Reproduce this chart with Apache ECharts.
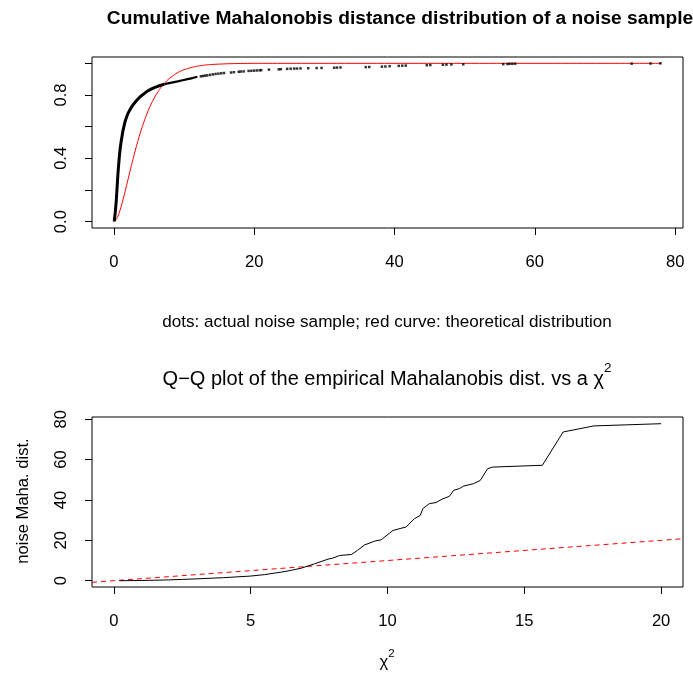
<!DOCTYPE html>
<html><head><meta charset="utf-8">
<script src="https://cdn.jsdelivr.net/npm/echarts@6/dist/echarts.min.js"></script>
<style>html,body{margin:0;padding:0;background:#fff}#c{width:693px;height:673px}</style>
</head><body><div id="c"></div>
<script>
// ---- Top panel: empirical CDF of the noise Mahalanobis distances (dense part)
const denseDist = [0.05,0.09,0.2,0.33,0.45,0.57,0.68,0.80,0.92,1.04,1.16,1.28,1.45,1.61,1.8,1.99,2.2,2.46,2.8,3.17,3.5,3.88,4.35,4.83,5.3,5.77,6.25,6.73,7.2];
const denseProb = [0.001,0.006,0.06,0.127,0.21,0.297,0.36,0.424,0.47,0.508,0.54,0.572,0.605,0.635,0.66,0.682,0.70,0.720,0.742,0.762,0.778,0.794,0.81,0.826,0.837,0.847,0.855,0.862,0.868];
const midDist = [7.2,7.68,8.4,9.1,9.8,10.5,11.2,11.9];
const midProb = [0.868,0.873,0.880,0.886,0.893,0.900,0.907,0.915];
// sparse tail dots
const tailDist = [12.4,12.7,13.0,13.3,13.7,14.1,14.5,14.9,15.3,15.7,16.7,17.1,17.8,18.1,18.5,19.2,19.6,20.0,20.4,20.8,21.0,22.1,23.5,23.8,24.7,25.2,25.7,26.1,26.6,27.7,28.9,29.6,31.4,31.8,32.3,35.9,36.4,38.2,38.7,39.3,40.6,41.1,41.6,44.6,45.1,46.9,47.4,48.1,49.8,55.5,56.1,56.4,56.8,57.2,73.8,76.5,77.9];
const tailProb = [0.918,0.920,0.922,0.924,0.927,0.930,0.933,0.935,0.937,0.939,0.942,0.944,0.947,0.948,0.949,0.952,0.953,0.954,0.955,0.956,0.957,0.960,0.962,0.963,0.965,0.966,0.967,0.967,0.968,0.969,0.970,0.971,0.972,0.973,0.974,0.976,0.977,0.979,0.980,0.982,0.984,0.985,0.986,0.988,0.989,0.991,0.992,0.993,0.994,0.995,0.996,0.997,0.997,0.998,0.998,0.999,1.0];
// theoretical distribution (red curve)
const theoDist = [0,0.4,0.8,1.2,1.6,2.0,2.5,3.0,3.5,4.0,4.5,5.0,5.5,6.0,6.5,7.0,7.5,8.0,9.0,10.0,11.0,12.0,13.0,14.0,16.0,18.0,20.0,78.0];
const theoProb = [0,0.018,0.061,0.122,0.191,0.264,0.355,0.442,0.522,0.594,0.657,0.713,0.760,0.801,0.835,0.864,0.888,0.908,0.939,0.960,0.973,0.983,0.989,0.993,0.997,0.999,1.0,1.0];
// ---- Bottom panel: Q-Q plot
const qqChi  = [0.2,1,2,2.5,3,4,5,5.5,6.13,6.5,6.86,7.34,7.83,8.0,8.25,8.68,8.9,9.16,9.53,9.77,9.83,10.2,10.5,10.68,10.98,11.2,11.29,11.53,11.77,12.02,12.26,12.42,12.62,12.78,13.15,13.39,13.66,13.84,15.66,16.42,17.54,20.0];
const qqDist = [0.0,0.1,0.4,0.65,0.9,1.5,2.3,3.0,4.28,5.2,6.26,8.4,10.7,11.2,12.5,13.0,15.0,17.7,19.6,20.3,21.1,24.9,26.0,26.6,30.7,32.4,35.7,38.2,38.7,40.6,41.8,44.8,45.6,46.9,48.1,49.7,55.5,56.3,57.2,73.7,76.7,77.8];
const refLineX = [-0.8, 20.8];   // y = x reference line
// ---- tick values / labels
const topXTicks = [0,20,40,60,80];
const topYTicks = [0,0.2,0.4,0.6,0.8,1.0];
const topYLabels = [0,0.4,0.8];
const botXTicks = [0,5,10,15,20];
const botYTicks = [0,20,40,60,80];

const mainTitle = 'Cumulative Mahalonobis distance distribution of a noise sample';
const subTitle = 'dots: actual noise sample; red curve: theoretical distribution';
const qqTitle = 'Q\u2212Q plot of the empirical Mahalanobis dist. vs a \u03c7';
const xLab2 = '\u03c7';
const yLab2 = 'noise Maha. dist.';

const FONT = '"Liberation Sans", Arial, Helvetica, sans-serif';
const zip = (a, b) => a.map((v, i) => [v, b[i]]);

const chart = echarts.init(document.getElementById('c'), null, {renderer: 'canvas'});

const cv = document.createElement('canvas').getContext('2d');
function tw(text, size, weight) { cv.font = (weight || 'normal') + ' ' + size + 'px ' + FONT; return cv.measureText(text).width; }

const plotCx = 387;
const qqSize = 20, supSize = 13.5;
const qqW = tw(qqTitle, qqSize), supW = tw('2', supSize);
const qqStart = plotCx - (qqW + supW) / 2;
const xlW = tw(xLab2, 16.6);
const xlStart = plotCx - (xlW + tw('2', 11.5)) / 2;

const axisFont = {color: '#000', fontSize: 16.6, fontFamily: FONT};
function xAx(gi, min, max, ticks) {
  return {type: 'value', gridIndex: gi, min: min, max: max,
    axisLine: {show: false, onZero: false}, splitLine: {show: false},
    axisTick: {show: true, length: 7, customValues: ticks, lineStyle: {color: '#000', width: 1}},
    axisLabel: Object.assign({customValues: ticks, margin: 26}, axisFont)};
}
function yAx(gi, min, max, ticks, labels, fmt) {
  return {type: 'value', gridIndex: gi, min: min, max: max,
    axisLine: {show: false, onZero: false}, splitLine: {show: false},
    axisTick: {show: true, length: 7, customValues: ticks, lineStyle: {color: '#000', width: 1}},
    axisLabel: Object.assign({customValues: labels, margin: 22, rotate: 90, formatter: fmt}, axisFont)};
}

chart.setOption({
  animation: false,
  backgroundColor: '#fff',
  grid: [
    {left: 92, top: 57, right: 10, height: 171, show: true, borderColor: '#000', borderWidth: 1, backgroundColor: 'transparent'},
    {left: 92, top: 417, right: 10, height: 170, show: true, borderColor: '#000', borderWidth: 1, backgroundColor: 'transparent'}
  ],
  xAxis: [xAx(0, -3.12, 81.12, topXTicks), xAx(1, -0.8, 20.8, botXTicks)],
  yAxis: [yAx(0, -0.04, 1.04, topYTicks, topYLabels, v => v.toFixed(1)), yAx(1, -3.12, 81.12, botYTicks, botYTicks, v => String(v))],
  series: [
    {type: 'line', xAxisIndex: 0, yAxisIndex: 0, data: zip(theoDist, theoProb), showSymbol: false, smooth: 0.2,
      lineStyle: {color: '#ff0000', width: 1}, z: 2},
    {type: 'line', xAxisIndex: 0, yAxisIndex: 0, data: zip(denseDist, denseProb), showSymbol: false,
      lineStyle: {color: '#000', width: 3}, z: 3},
    {type: 'line', xAxisIndex: 0, yAxisIndex: 0, data: zip(midDist, midProb), showSymbol: false,
      lineStyle: {color: '#000', width: 2.2}, z: 3},
    {type: 'scatter', xAxisIndex: 0, yAxisIndex: 0, data: zip(tailDist, tailProb), symbol: 'rect', symbolSize: 2.5,
      itemStyle: {color: '#000'}, z: 3},
    {type: 'line', xAxisIndex: 1, yAxisIndex: 1, data: zip(qqChi, qqDist), showSymbol: false,
      lineStyle: {color: '#000', width: 1}, z: 3},
    {type: 'line', xAxisIndex: 1, yAxisIndex: 1, data: zip(refLineX, refLineX), showSymbol: false,
      lineStyle: {color: '#ff0000', width: 1, type: [5, 4]}, z: 2}
  ],
  graphic: [
    {type: 'text', x: 400, y: 19, style: {text: mainTitle, font: 'bold 19.2px ' + FONT, fill: '#000', textAlign: 'center', textVerticalAlign: 'middle'}},
    {type: 'text', x: plotCx, y: 322, style: {text: subTitle, font: '17.1px ' + FONT, fill: '#000', textAlign: 'center', textVerticalAlign: 'middle'}},
    {type: 'text', x: qqStart, y: 379, style: {text: qqTitle, font: qqSize + 'px ' + FONT, fill: '#000', textAlign: 'left', textVerticalAlign: 'middle'}},
    {type: 'text', x: qqStart + qqW, y: 368, style: {text: '2', font: supSize + 'px ' + FONT, fill: '#000', textAlign: 'left', textVerticalAlign: 'middle'}},
    {type: 'text', x: xlStart, y: 662, style: {text: xLab2, font: '16.6px ' + FONT, fill: '#000', textAlign: 'left', textVerticalAlign: 'middle'}},
    {type: 'text', x: xlStart + xlW, y: 654, style: {text: '2', font: '11.5px ' + FONT, fill: '#000', textAlign: 'left', textVerticalAlign: 'middle'}},
    {type: 'text', x: 23, y: 501, rotation: Math.PI / 2, style: {text: yLab2, font: '16.6px ' + FONT, fill: '#000', textAlign: 'center', textVerticalAlign: 'middle'}}
  ]
});
</script></body></html>
